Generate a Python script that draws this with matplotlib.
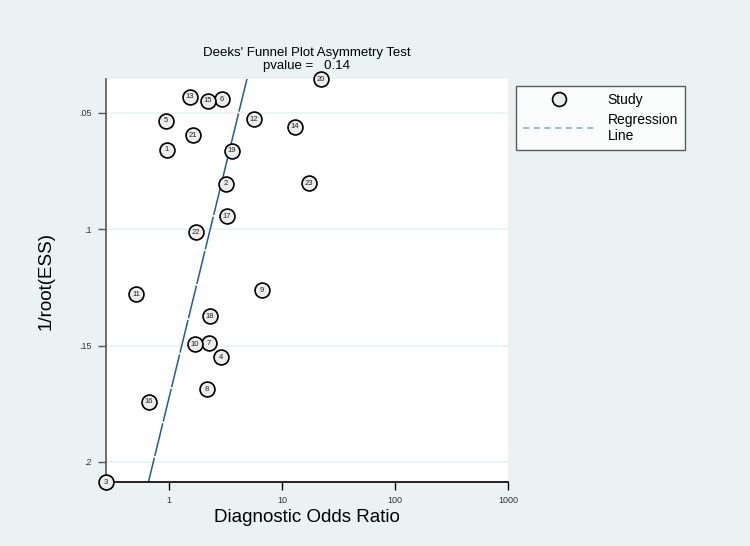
import numpy as np
from matplotlib import pyplot as plt
from matplotlib.lines import Line2D

plt.rcParams['font.family'] = ['Liberation Sans', 'DejaVu Sans']

# study id, diagnostic odds ratio, 1/root(ESS)
study = [1, 2, 3, 4, 5, 6, 7, 8, 9, 10, 11, 12,
         13, 14, 15, 16, 17, 18, 19, 20, 21, 22, 23]
dor = [0.96, 3.19, 0.277, 2.88, 0.94, 2.94, 2.26, 2.17, 6.65, 1.70, 0.511, 5.65,
       1.53, 13.0, 2.21, 0.665, 3.26, 2.31, 3.61, 22.1, 1.63, 1.73, 17.3]
inv_ess = [0.0659, 0.0805, 0.2086, 0.1549, 0.0534, 0.0440, 0.1489, 0.1687,
           0.1261, 0.1493, 0.1278, 0.0526, 0.0431, 0.0560, 0.0448, 0.1742,
           0.0943, 0.1373, 0.0663, 0.0354, 0.0595, 0.1012, 0.0801]

# regression: ln(DOR) = a + b * 1/root(ESS)
reg_a = 1.999
reg_b = -11.59
pvalue = 0.14

bg = '#eaf2f3'
fig = plt.figure(figsize=(7.5, 5.46), dpi=100, facecolor=bg)
ax = fig.add_axes([0.1413, 0.1172, 0.536, 0.7381])
ax.set_facecolor('white')

ax.set_xscale('log')
ymin, ymax = min(inv_ess), max(inv_ess)
ax.set_xlim(min(dor), 1000)
ax.set_ylim(ymax, ymin)

# regression line
yy = np.linspace(ymin, ymax, 200)
ax.plot(np.exp(reg_a + reg_b * yy), yy, color='#1f5c99', lw=1.1,
        dashes=(22, 1.2), zorder=2)

ax.scatter(dor, inv_ess, s=115, facecolor='#ececec', edgecolor='black',
           linewidth=1.2, zorder=3, clip_on=False)
for s, x, y in zip(study, dor, inv_ess):
    ax.text(x, y, str(s), fontsize=5.5, ha='center', va='center', zorder=4,
            color='#222222', clip_on=False)

ax.set_yticks([0.05, 0.1, 0.15, 0.2])
ax.set_yticklabels(['.05', '.1', '.15', '.2'])
ax.set_xticks([1, 10, 100, 1000])
ax.set_xticklabels(['1', '10', '100', '1000'])
ax.minorticks_off()
ax.grid(axis='y', color=bg, lw=1.2)
ax.set_axisbelow(True)

for side in ['top', 'right']:
    ax.spines[side].set_visible(False)
ax.spines['left'].set_color('#555555')
ax.spines['left'].set_linewidth(1.2)
ax.spines['bottom'].set_color('black')
ax.spines['bottom'].set_linewidth(1.2)
ax.tick_params(axis='both', labelsize=6.5, length=6, width=1, pad=4,
               labelcolor='#333333')
ax.tick_params(axis='y', colors='#555555', labelcolor='#333333')

ax.set_xlabel('Diagnostic Odds Ratio', fontsize=13.5, labelpad=3)
ax.set_ylabel('1/root(ESS)', fontsize=13.5, labelpad=18)

fig.text(0.409, 1 - 53 / 546, "Deeks' Funnel Plot Asymmetry Test",
         fontsize=9.5, ha='center', va='center')
fig.text(0.409, 1 - 66 / 546, 'pvalue =   %.2f' % pvalue,
         fontsize=9.5, ha='center', va='center')

handles = [Line2D([], [], ls='none', marker='o', markersize=10,
                  markerfacecolor='#ececec', markeredgecolor='black',
                  markeredgewidth=1.2),
           Line2D([], [], color='#8da7c2', lw=1.1, dashes=(4, 3))]
leg = fig.legend(handles, ['Study', 'Regression\nLine'], loc='upper left',
                 bbox_to_anchor=(516 / 750, 1 - 86 / 546), fontsize=10,
                 frameon=True, fancybox=False, edgecolor='#333333',
                 handlelength=5.2, borderpad=0.5, labelspacing=0.4,
                 handletextpad=0.9, borderaxespad=0)
leg.get_frame().set_linewidth(1)
leg.get_frame().set_facecolor('white')

fig.savefig('out.png', dpi=100, facecolor=bg)
